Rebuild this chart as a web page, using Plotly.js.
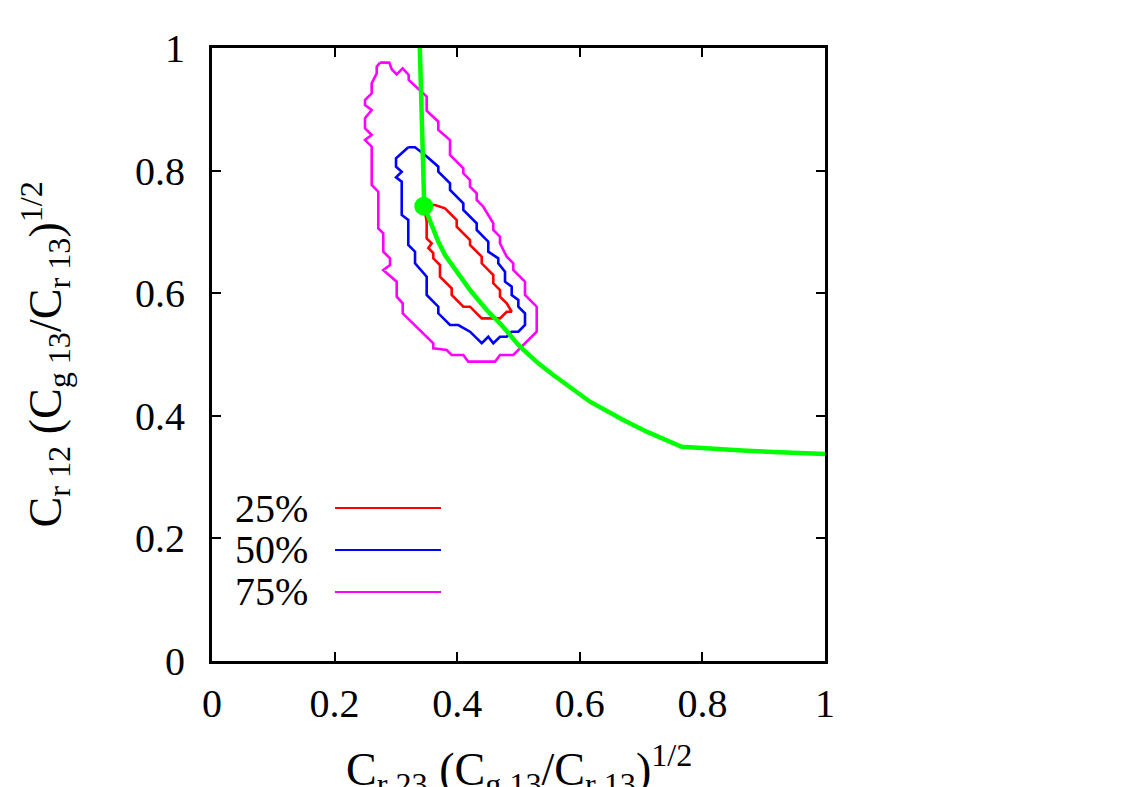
<!DOCTYPE html>
<html>
<head>
<meta charset="utf-8">
<script src="https://cdn.plot.ly/plotly-3.0.1.min.js"></script>
<style>html,body{margin:0;padding:0;background:#fff;}</style>
</head>
<body>
<div id="chart" style="width:1125px;height:787px;"></div>
<script>
// ---- data ----
const c25x = [0.3459,0.3638,0.3801,0.3992,0.3992,0.4209,0.4209,0.4400,0.4400,0.4589,0.4589,0.4698,0.4698,0.4808,0.4889,0.4808,0.4698,0.4400,0.4209,0.4100,0.3910,0.3910,0.3719,0.3719,0.3610,0.3610,0.3529,0.3584,0.3502,0.3502,0.3459];
const c25y = [0.7439,0.7439,0.7385,0.7194,0.7085,0.6868,0.6786,0.6596,0.6488,0.6297,0.6161,0.6052,0.5943,0.5835,0.5698,0.5698,0.5590,0.5590,0.5780,0.5780,0.5971,0.6080,0.6269,0.6460,0.6569,0.6656,0.6737,0.6814,0.6895,0.7162,0.7439];

const c50x = [0.3202,0.3312,0.3475,0.3692,0.3692,0.3883,0.3883,0.4100,0.4100,0.4318,0.4318,0.4507,0.4507,0.4670,0.4670,0.4780,0.4780,0.4889,0.4889,0.4997,0.4997,0.5106,0.5106,0.4997,0.4889,0.4808,0.4698,0.4589,0.4507,0.4400,0.4209,0.4018,0.3883,0.3692,0.3692,0.3502,0.3502,0.3312,0.3312,0.3202,0.3202,0.3095,0.3095,0.3002,0.3095,0.3002,0.3002,0.3202];
const c50y = [0.8380,0.8380,0.8254,0.8064,0.7982,0.7793,0.7684,0.7466,0.7357,0.7140,0.7031,0.6840,0.6677,0.6569,0.6488,0.6351,0.6188,0.6106,0.5971,0.5890,0.5780,0.5672,0.5481,0.5372,0.5372,0.5290,0.5290,0.5183,0.5290,0.5183,0.5372,0.5481,0.5481,0.5672,0.5780,0.5971,0.6269,0.6488,0.6677,0.6786,0.7194,0.7276,0.7819,0.7891,0.7982,0.8064,0.8200,0.8380];

const c75x = [0.2741,0.2892,0.2932,0.3013,0.3111,0.3209,0.3209,0.3393,0.3502,0.3502,0.3692,0.3692,0.3883,0.3883,0.4100,0.4100,0.4209,0.4209,0.4318,0.4318,0.4426,0.4507,0.4589,0.4589,0.4698,0.4698,0.4808,0.4915,0.4915,0.5106,0.5106,0.5297,0.5297,0.4915,0.4698,0.4617,0.4181,0.4100,0.3910,0.3829,0.3610,0.3610,0.3111,0.3111,0.3013,0.3013,0.2794,0.2904,0.2904,0.2794,0.2794,0.2713,0.2713,0.2605,0.2605,0.2496,0.2605,0.2496,0.2496,0.2605,0.2496,0.2496,0.2605,0.2605,0.2687,0.2687,0.2741];
const c75y = [0.9761,0.9761,0.9653,0.9571,0.9669,0.9560,0.9478,0.9315,0.9206,0.8977,0.8798,0.8662,0.8499,0.8254,0.8038,0.7956,0.7847,0.7738,0.7630,0.7521,0.7411,0.7276,0.7140,0.7031,0.6922,0.6814,0.6596,0.6488,0.6378,0.6188,0.5971,0.5780,0.5372,0.4992,0.4992,0.4883,0.4883,0.4992,0.4992,0.5073,0.5101,0.5183,0.5672,0.5835,0.5943,0.6188,0.6378,0.6460,0.6569,0.6677,0.6977,0.7058,0.7656,0.7765,0.8390,0.8499,0.8581,0.8690,0.8853,0.8989,0.9070,0.9152,0.9261,0.9424,0.9587,0.9695,0.9761];

const curveX = [0.3390,0.3421,0.3447,0.3463,0.3529,0.3610,0.3692,0.3801,0.3992,0.4209,0.4481,0.4698,0.5024,0.5323,0.5568,0.6166,0.6710,0.7091,0.7662,0.8178,0.8723,0.9266,1.0000];
const curveY = [1.0000,0.9043,0.8064,0.7411,0.7248,0.7031,0.6840,0.6623,0.6351,0.6052,0.5726,0.5509,0.5127,0.4856,0.4666,0.4230,0.3931,0.3741,0.3496,0.3458,0.3431,0.3405,0.3377];

const pointX = [0.3455];
const pointY = [0.7420];

const legendLabels = ['25%','50%','75%'];
const legendColors = ['#ff0000','#0000ff','#ff00ff'];
const legendYs = [0.2496,0.1811,0.1126];
const tickVals = [0,0.2,0.4,0.6,0.8,1];
const tickText = ['0','0.2','0.4','0.6','0.8','1'];

// ---- figure ----
const serif = 'Liberation Serif, Times New Roman, serif';
const traces = [
  {x:c75x, y:c75y, mode:'lines', line:{color:'#ff00ff', width:2.6}, hoverinfo:'skip'},
  {x:c50x, y:c50y, mode:'lines', line:{color:'#0000ff', width:2.6}, hoverinfo:'skip'},
  {x:c25x, y:c25y, mode:'lines', line:{color:'#ff0000', width:2.6}, hoverinfo:'skip'},
  {x:curveX, y:curveY, mode:'lines', line:{color:'#00ff00', width:4.5}, hoverinfo:'skip'},
  {x:pointX, y:pointY, mode:'markers', marker:{color:'#00ff00', size:19}, hoverinfo:'skip'}
];

const shapes = [];
const annotations = [];
legendLabels.forEach((lab,i)=>{
  shapes.push({type:'line', xref:'x', yref:'y', x0:0.2007, x1:0.3736, y0:legendYs[i], y1:legendYs[i],
    line:{color:legendColors[i], width:2}});
  annotations.push({xref:'x', yref:'y', x:0.160, y:legendYs[i], text:lab, showarrow:false,
    xanchor:'right', yanchor:'middle', font:{family:serif, size:40, color:'#000'}});
});
annotations.push({xref:'paper', yref:'paper', x:0.5, y:0, yanchor:'top', xanchor:'center', yshift:-74,
  text:'C<sub>r 23</sub> (C<sub>g 13</sub>/C<sub>r 13</sub>)<sup>1/2</sup>', showarrow:false,
  font:{family:serif, size:46, color:'#000'}});
annotations.push({xref:'paper', yref:'paper', x:0, y:0.5, xanchor:'center', yanchor:'middle', xshift:-167,
  textangle:-90,
  text:'C<sub>r 12</sub> (C<sub>g 13</sub>/C<sub>r 13</sub>)<sup>1/2</sup>', showarrow:false,
  font:{family:serif, size:46, color:'#000'}});

const axisCommon = {
  range:[0,1], tickvals:tickVals, ticktext:tickText, ticks:'inside', ticklen:9, tickwidth:2,
  tickcolor:'#000', showline:true, linecolor:'#000', linewidth:3, mirror:'ticks',
  showgrid:false, zeroline:false, tickfont:{family:serif, size:40, color:'#000'}, fixedrange:true
};

const layout = {
  width:1125, height:787,
  margin:{l:212, r:300, t:48, b:126, pad:0},
  paper_bgcolor:'#fff', plot_bgcolor:'#fff',
  showlegend:false,
  xaxis:Object.assign({}, axisCommon, {ticklabelstandoff:5}),
  yaxis:Object.assign({}, axisCommon, {ticklabelstandoff:16}),
  shapes:shapes, annotations:annotations
};

Plotly.newPlot('chart', traces, layout, {staticPlot:true, displayModeBar:false});
</script>
</body>
</html>
